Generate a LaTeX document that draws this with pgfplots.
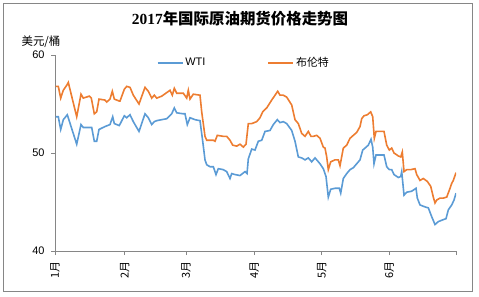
\documentclass[border=0pt]{standalone}
\usepackage{pgfplots}
\pgfplotsset{compat=1.18}
\usepackage{pgfplotstable}
\usepackage{fontspec}
\setmainfont{Liberation Sans}
\newfontfamily\cjk{Noto Sans CJK SC}
\newfontfamily\serifb{Liberation Serif}
\definecolor{wti}{RGB}{91,155,213}
\definecolor{brent}{RGB}{237,125,49}
\definecolor{axgray}{RGB}{134,134,134}

\pgfplotstableread{
x v
0.7 56.8
3.3 56.8
5.7 55.6
8.3 56.4
12.3 57.0
13.3 57.2
21.7 53.7
26 56.0
28.3 55.6
34.3 55.8
36.3 55.6
39.3 54.0
41.7 54.2
44 55.5
50 55.4
51.7 55.2
55 55.5
57.3 56.3
59.3 55.5
64.3 55.3
65 55.3
69.3 56.5
71.7 56.8
75 56.7
78.3 55.9
84 55.0
90 56.7
93.3 56.3
96.7 55.6
99.3 55.9
101.7 55.6
106.7 55.8
115 56.4
117.3 55.9
119.3 56.6
121.7 56.1
126.7 56.1
128.3 56.1
131.7 55.6
133.3 56.4
135 55.5
138.3 56.0
145 55.9
146.7 54.2
150 51.7
151.7 51.3
158.3 51.3
160 51.2
162.3 51.8
168.3 51.7
171.7 51.7
175 51.3
177.7 50.8
181.7 50.7
185 50.9
188.3 50.6
191 50.9
193.3 53.0
196.7 53.0
201.7 53.2
205 53.6
207.7 54.2
211.7 54.6
216.7 55.4
222.7 56.3
225 55.9
228.3 55.9
231.7 55.7
236.7 54.9
240 53.4
243.3 53.0
246.7 52.0
250 51.7
253.3 52.2
256 51.7
258.3 51.7
261.7 51.8
265 51.5
268.3 50.6
270 50.5
271.7 49.6
273.3 48.3
275.7 49.1
280 49.3
283.3 49.3
285 48.7
288.3 50.5
291.7 50.8
295 51.5
298.3 51.8
301.7 52.1
305 52.7
306.7 53.5
309 53.8
312.3 53.9
315.7 54.2
317.7 53.7
319.3 51.5
321 52.2
326.7 52.2
329 52.2
331.7 50.8
334.3 50.3
336.7 50.5
339 50.0
343.3 49.7
345.7 49.6
347.3 50.1
349 48.1
351.7 48.3
355.7 48.3
360 48.4
361.7 47.8
365 47.2
368.3 47.4
372.3 47.1
375.7 46.6
378.3 45.5
380 44.9
381.7 45.2
385 45.4
388.3 45.4
391.7 45.5
394.3 46.2
396.7 46.9
398.3 47.2
401 48.0
}\brent

\pgfplotstableread{
x v
0.7 53.7
3.3 53.7
5.7 52.4
8.3 53.4
12.3 53.9
21.7 50.9
26 52.9
28.3 52.6
36.7 52.6
39.3 51.2
41.7 51.2
44 52.4
50 52.7
55 52.9
57.7 53.7
59.3 53.0
64.3 52.8
69.3 53.8
71.7 53.6
75 53.9
78.3 53.2
84 52.2
90 54.0
93.3 53.6
96.7 52.9
99.3 53.2
101.7 53.3
111.7 53.5
116.7 54.0
119.3 54.6
121.7 54.1
128.3 54.0
130 54.0
132.3 52.9
135 53.6
140 53.4
145 53.3
147.7 51.2
150 49.3
151.7 48.8
155 48.6
158.3 48.6
161 47.8
163.3 48.4
168.3 48.3
171.7 48.1
175 47.4
176.7 47.9
180 47.8
185 47.7
190 48.1
192 47.9
193.3 49.4
196.7 50.4
200 50.3
203.3 51.2
206.7 51.3
210 52.2
215 52.3
218.3 52.9
222.3 53.4
225 53.1
228.3 53.2
231.7 53.0
236.7 52.3
240 51.2
243.3 49.6
246.7 49.5
250 49.3
253.3 49.5
256.7 49.1
260 49.5
261.7 49.3
265 48.9
268.3 48.4
271 47.6
273.3 45.5
275.7 46.3
280 46.4
284.3 46.4
285.7 45.9
288.3 47.4
291.7 47.9
295 48.3
298.3 48.5
301.7 48.9
305 49.3
307.7 50.3
310 50.5
313.3 50.8
316 51.4
317.7 50.6
319 48.9
321 49.8
328.3 49.8
329 49.8
331.7 48.6
334.3 48.3
336.7 48.3
339 47.8
343.3 47.5
345.7 47.6
346.7 48.1
349 45.7
351.7 46.0
356.7 46.1
361 46.4
362.3 45.4
365 44.7
370 44.5
373.3 44.4
376.7 43.5
380 42.7
383.3 43.0
388.3 43.2
391 43.3
393.3 44.2
396.7 44.7
399 45.2
401 45.9
}\wti

\begin{document}
\begin{tikzpicture}[x=1bp,y=1bp]
\path[use as bounding box] (0,0) rectangle (479,296);
\draw[axgray, line width=0.8bp] (3,4.5) rectangle (472.7,292.5);
\node at (240,277) {\fontsize{15.5}{17}\selectfont\bfseries{\serifb 2017}{\cjk 年国际原油期货价格走势图}};
\node at (41,254) {\fontsize{11.5}{13}\selectfont\cjk 美元/桶};
\begin{axis}[
  at={(55bp,45bp)}, anchor=south west,
  scale only axis, width=401bp, height=196bp,
  xmin=0, xmax=401, ymin=40, ymax=60,
  axis x line*=bottom, axis y line*=left,
  axis line style={-, draw=axgray, line width=0.8bp},
  ytick={40,50,60},
  xtick={0,69.7,131,199.3,266.7,334.3,401},
  xticklabels={1月,2月,3月,4月,5月,6月,{}},
  xticklabel style={rotate=90, anchor=east, font=\fontsize{11}{12}\selectfont\cjk, xshift=-3bp},
  yticklabel style={font=\fontsize{11}{13}\selectfont, xshift=-3bp},
  /pgf/number format/assume math mode=true,
  tick align=outside, major tick length=4bp,
  tick style={draw=axgray, line width=0.8bp},
  legend columns=2,
  legend style={draw=none, fill=none, at={(0.471,0.96)}, anchor=center,
    font=\fontsize{11}{13}\selectfont,
    /tikz/every even column/.append style={column sep=60bp}},
  legend image code/.code={\draw[#1] (0bp,0bp) -- (25bp,0bp);},
]
\addplot[wti, line width=1.6bp] table[x=x,y=v] {\wti};
\addlegendentry{WTI}
\addplot[brent, line width=1.6bp] table[x=x,y=v] {\brent};
\addlegendentry{\cjk 布伦特}
\end{axis}
\end{tikzpicture}
\end{document}
